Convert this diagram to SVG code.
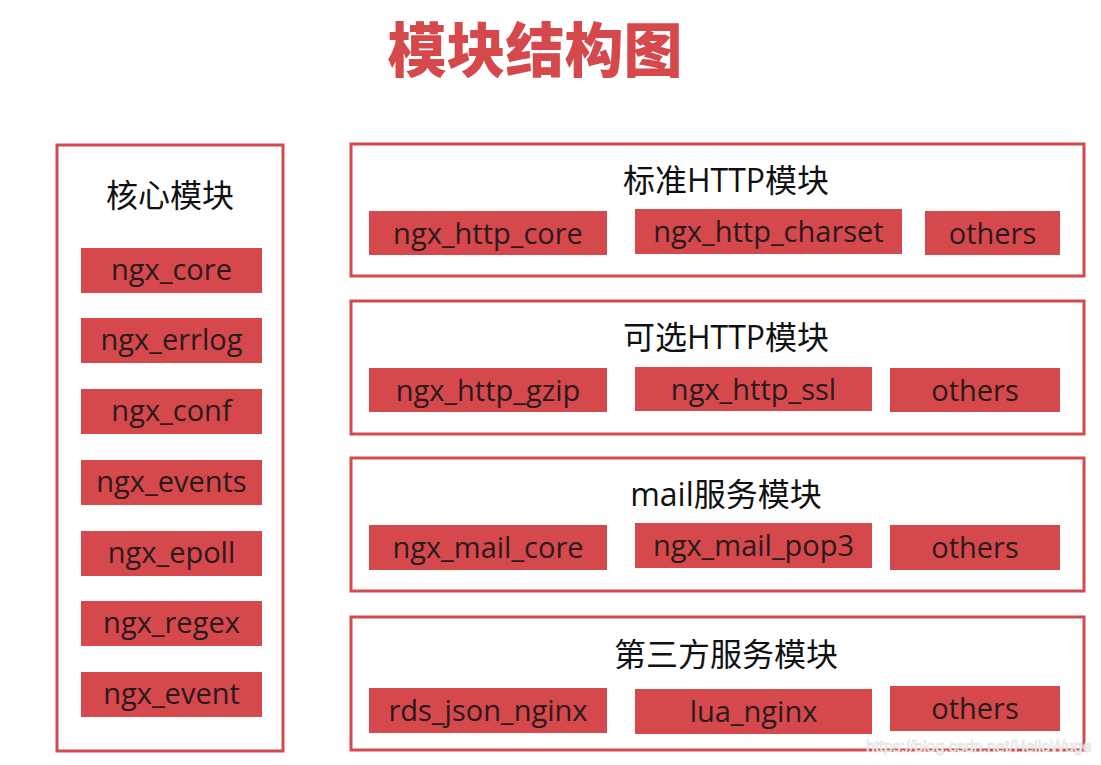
<svg xmlns="http://www.w3.org/2000/svg" width="1101" height="765" viewBox="0 0 1101 765">
<style>
.panel{fill:#ffffff;stroke:#d34a4f;stroke-width:3}
.box{fill:#d5484c}
.bt{font-family:"Open Sans","Noto Sans CJK SC",sans-serif;font-size:29px;fill:#2a1a1c;text-anchor:middle}
.pt{font-family:"Open Sans","Noto Sans CJK SC",sans-serif;font-size:32px;fill:#111111;text-anchor:middle}
.title{font-family:"Noto Sans CJK SC",sans-serif;font-size:59px;font-weight:900;fill:#d5484c;text-anchor:middle}
.wm{font-family:"Liberation Sans",sans-serif;font-size:16px;fill:#ffffff;stroke:#d8d8d8;stroke-width:0.6;text-anchor:start}
</style>
<rect width="1101" height="765" fill="#ffffff"/>
<text class="title" x="535" y="72">模块结构图</text>

<g id="core-panel">
<rect class="panel" x="57" y="145" width="226" height="606"/>
<text class="pt" x="170" y="207">核心模块</text>
</g>
<g id="ngx_core"><rect class="box" x="81" y="248" width="181" height="45"/><text class="bt" x="171.5" y="280">ngx_core</text></g>
<g id="ngx_errlog"><rect class="box" x="81" y="318" width="181" height="45"/><text class="bt" x="171.5" y="350">ngx_errlog</text></g>
<g id="ngx_conf"><rect class="box" x="81" y="389" width="181" height="45"/><text class="bt" x="171.5" y="421">ngx_conf</text></g>
<g id="ngx_events"><rect class="box" x="81" y="460" width="181" height="45"/><text class="bt" x="171.5" y="492">ngx_events</text></g>
<g id="ngx_epoll"><rect class="box" x="81" y="531" width="181" height="45"/><text class="bt" x="171.5" y="563">ngx_epoll</text></g>
<g id="ngx_regex"><rect class="box" x="81" y="601" width="181" height="45"/><text class="bt" x="171.5" y="633">ngx_regex</text></g>
<g id="ngx_event"><rect class="box" x="81" y="672" width="181" height="45"/><text class="bt" x="171.5" y="704">ngx_event</text></g>

<g id="std-http-panel">
<rect class="panel" x="351" y="144" width="733" height="132"/>
<text class="pt" x="726" y="192">标准HTTP模块</text>
</g>
<g id="ngx_http_core"><rect class="box" x="369" y="211" width="238" height="44"/><text class="bt" x="488" y="244">ngx_http_core</text></g>
<g id="ngx_http_charset"><rect class="box" x="635" y="209" width="267" height="45"/><text class="bt" x="768.5" y="242">ngx_http_charset</text></g>
<g id="std-others"><rect class="box" x="925" y="211" width="135" height="44"/><text class="bt" x="992.5" y="244">others</text></g>

<g id="opt-http-panel">
<rect class="panel" x="351" y="301" width="733" height="133"/>
<text class="pt" x="726" y="349">可选HTTP模块</text>
</g>
<g id="ngx_http_gzip"><rect class="box" x="369" y="368" width="238" height="44"/><text class="bt" x="488" y="401">ngx_http_gzip</text></g>
<g id="ngx_http_ssl"><rect class="box" x="635" y="367" width="237" height="44"/><text class="bt" x="753.5" y="400">ngx_http_ssl</text></g>
<g id="opt-others"><rect class="box" x="890" y="368" width="170" height="44"/><text class="bt" x="975" y="401">others</text></g>

<g id="mail-panel">
<rect class="panel" x="351" y="458" width="733" height="133"/>
<text class="pt" x="726" y="506">mail服务模块</text>
</g>
<g id="ngx_mail_core"><rect class="box" x="369" y="525" width="238" height="45"/><text class="bt" x="488" y="558">ngx_mail_core</text></g>
<g id="ngx_mail_pop3"><rect class="box" x="635" y="523" width="237" height="45"/><text class="bt" x="753.5" y="556">ngx_mail_pop3</text></g>
<g id="mail-others"><rect class="box" x="890" y="525" width="170" height="45"/><text class="bt" x="975" y="558">others</text></g>

<g id="third-panel">
<rect class="panel" x="351" y="617" width="733" height="133"/>
<text class="pt" x="726" y="666">第三方服务模块</text>
</g>
<g id="rds_json_nginx"><rect class="box" x="369" y="688" width="238" height="45"/><text class="bt" x="488" y="721">rds_json_nginx</text></g>
<g id="lua_nginx"><rect class="box" x="635" y="689" width="237" height="45"/><text class="bt" x="753.5" y="722">lua_nginx</text></g>
<g id="third-others"><rect class="box" x="890" y="686" width="170" height="45"/><text class="bt" x="975" y="719">others</text></g>

<g id="connectors"></g>
<text class="wm" x="866" y="752">https://blog.csdn.net/HelloWuge</text>
</svg>
